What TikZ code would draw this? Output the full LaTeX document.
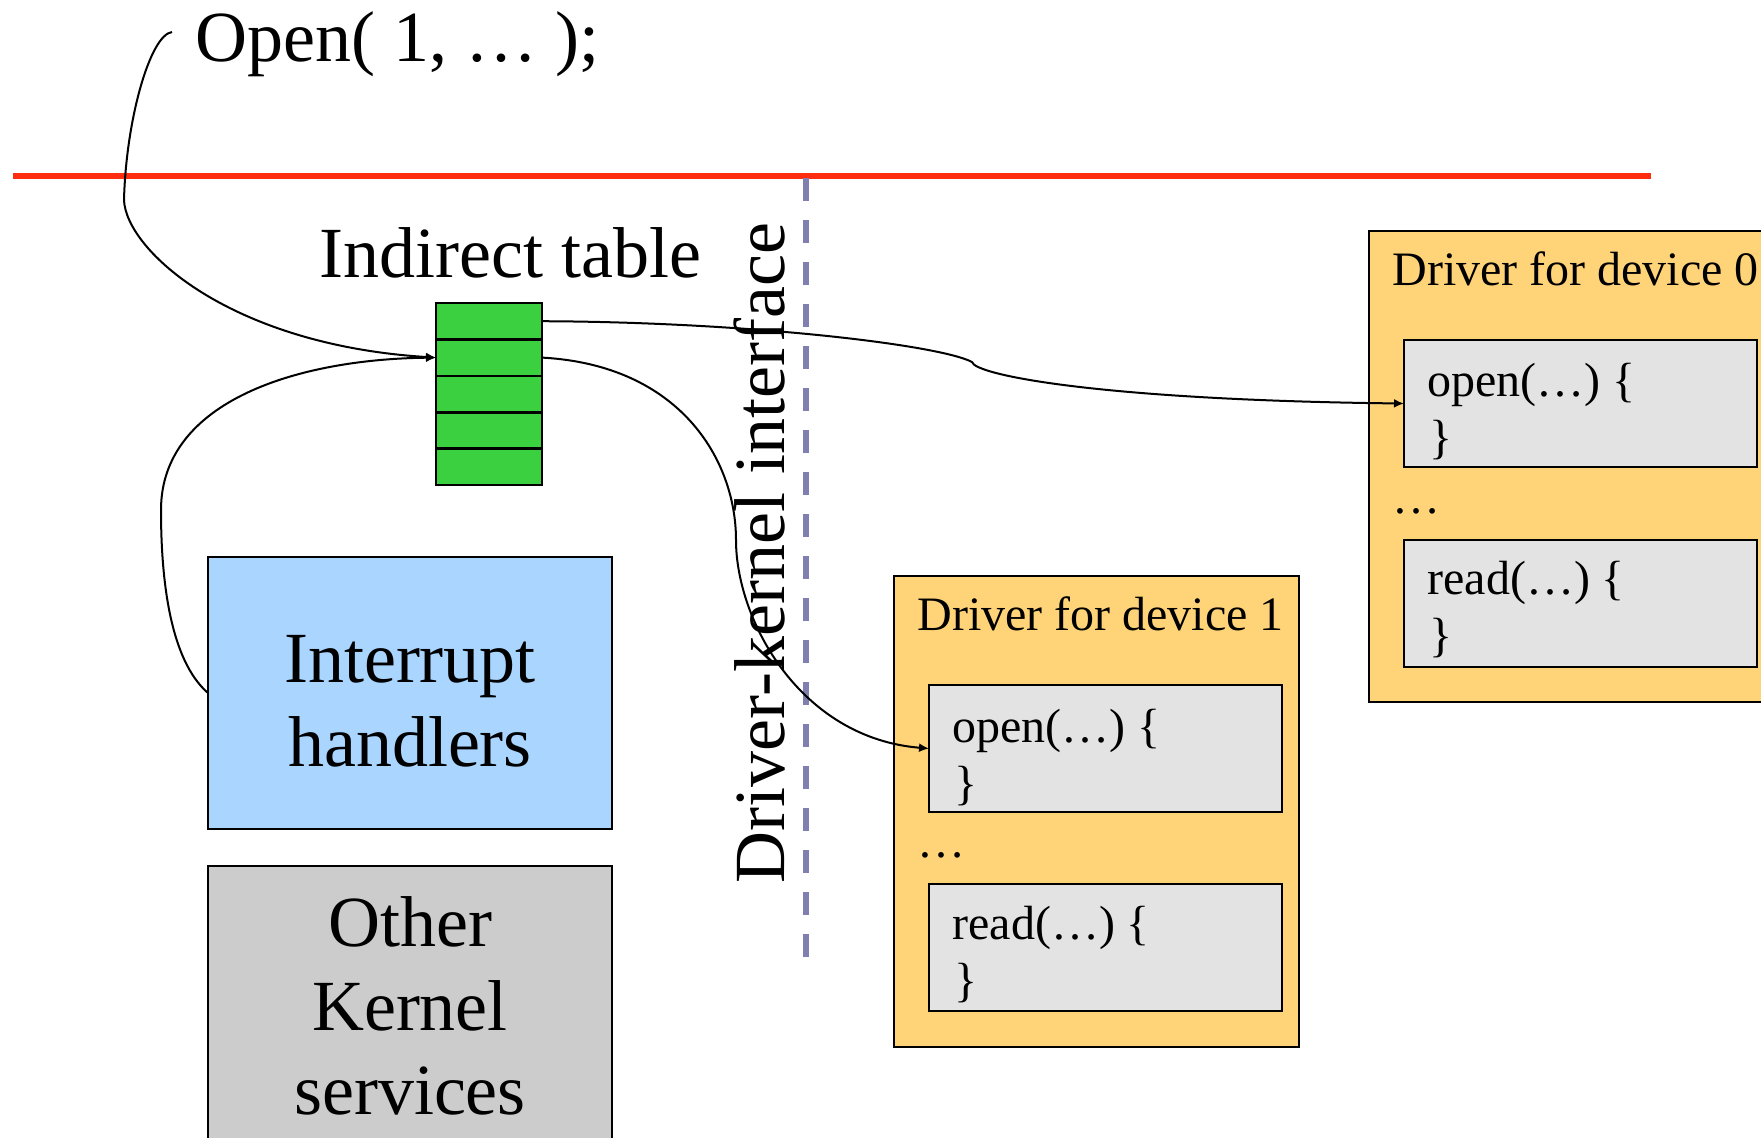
\documentclass[tikz,border=0pt]{standalone}
\usepackage{fontspec}
\setmainfont{Liberation Serif}
\usetikzlibrary{arrows.meta}
\definecolor{kred}{RGB}{255,45,15}
\definecolor{kgreen}{RGB}{58,208,64}
\definecolor{kblue}{RGB}{169,213,255}
\definecolor{kgray}{RGB}{204,204,204}
\definecolor{korange}{RGB}{255,212,121}
\definecolor{kcode}{RGB}{227,227,227}
\definecolor{kdash}{RGB}{128,128,176}
\begin{document}
\begin{tikzpicture}[x=0.5pt,y=-0.5pt,
  box/.style={draw=black, line width=1.3pt, inner sep=0pt, outer sep=0pt, anchor=north west},
  small/.style={inner sep=0pt, anchor=base west, font=\fontsize{24pt}{28pt}\selectfont},
  big/.style={inner sep=0pt, anchor=base, font=\fontsize{36pt}{42pt}\selectfont},
  bigw/.style={inner sep=0pt, anchor=base west, font=\fontsize{36pt}{42pt}\selectfont},
  conn/.style={line width=1pt, -{Latex[length=5pt,width=4.5pt]}},
  row/.style={box, fill=kgreen, minimum width=53pt, minimum height=18.2pt},
  drv/.style={box, fill=korange, minimum width=202.5pt, minimum height=235.5pt},
  code/.style={box, fill=kcode, minimum width=176.5pt, minimum height=63.5pt},
]
\useasboundingbox (0,0) rectangle (1761,1137);
\clip (0,0) rectangle (1761,1137);

% kernel boundary
\coordinate (redL) at (13,176);
\coordinate (redR) at (1651,176);
\draw[kred, line width=2.8pt] (redL) -- (redR);

% driver-kernel interface
\coordinate (dashT) at (806,178);
\coordinate (dashB) at (806,957);
\draw[kdash, line width=3pt, dash pattern=on 11.5pt off 9.5pt] (dashT) -- (dashB);
\node[big, rotate=90] (dki) at (784,553) {Driver-kernel interface};

% top text
\node[bigw] (open) at (195,61) {Open( 1, … );};
\coordinate (ostart) at (172,32);

% indirect table
\node[bigw] (itlbl) at (319,277) {Indirect table};
\node[row] (tr1) at (436,303) {};
\node[row] (tr2) at (436,339.4) {};
\node[row] (tr3) at (436,375.8) {};
\node[row] (tr4) at (436,412.2) {};
\node[row] (tr5) at (436,448.6) {};

% kernel boxes
\node[box, fill=kblue, minimum width=202pt, minimum height=136pt] (ih) at (208,557) {};
\node[big] (ih1) at (410,682) {Interrupt};
\node[big] (ih2) at (410,766) {handlers};
\node[box, fill=kgray, minimum width=202pt, minimum height=180pt] (oks) at (208,866) {};
\node[big] (ok1) at (410,946) {Other};
\node[big] (ok2) at (410,1030) {Kernel};
\node[big] (ok3) at (410,1114) {services};

% driver for device 1
\node[drv] (d1) at (894,576) {};
\node[small] (d1t) at (917,630) {Driver for device 1};
\node[code] (d1o) at (929,685) {};
\node[small] (d1o1) at (952,742) {open(…) \{};
\node[small] (d1o2) at (954,799) {\}};
\node[small] (d1e) at (917,857) {…};
\node[code] (d1r) at (929,884) {};
\node[small] (d1r1) at (952,939) {read(…) \{};
\node[small] (d1r2) at (954,996) {\}};

% driver for device 0
\node[drv] (d0) at (1369,231) {};
\node[small] (d0t) at (1392,285) {Driver for device 0};
\node[code] (d0o) at (1404,340) {};
\node[small] (d0o1) at (1427,396) {open(…) \{};
\node[small] (d0o2) at (1429,453) {\}};
\node[small] (d0e) at (1392,513) {…};
\node[code] (d0r) at (1404,540) {};
\node[small] (d0r1) at (1427,594) {read(…) \{};
\node[small] (d0r2) at (1429,651) {\}};

% connectors
\draw[conn] (ostart) .. controls (150,35) and (126,120) .. (124,200)
  .. controls (126,250) and (230,345) .. (tr2.west);
\draw[conn] (ih.west) .. controls (170,660) and (161,580) .. (161,510)
  .. controls (161,400) and (300,359) .. (tr2.west);
\draw[conn] (tr1.east) .. controls (750,322) and (940,345) .. (972,362)
  .. controls (975,375) and (1100,400) .. (d0o.west);
\draw[conn] (tr2.east) .. controls (680,365) and (736,460) .. (736,540)
  .. controls (736,620) and (800,738) .. (d1o.west);
\end{tikzpicture}
\end{document}
